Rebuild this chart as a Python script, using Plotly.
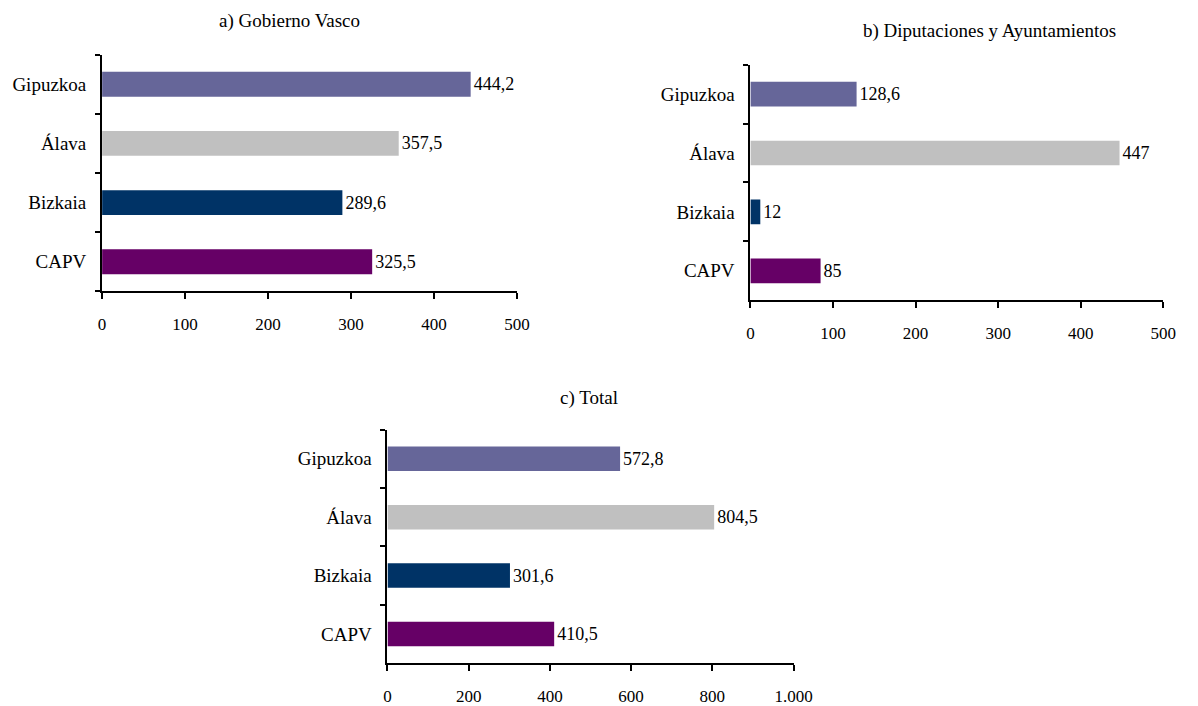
import plotly.graph_objects as go

W, H = 1198, 706

categories = ["Gipuzkoa", "Álava", "Bizkaia", "CAPV"]
colors = ["#666699", "#C0C0C0", "#003366", "#660066"]

gobierno_vasco = [444.2, 357.5, 289.6, 325.5]
diputaciones = [128.6, 447, 12, 85]
total = [572.8, 804.5, 301.6, 410.5]

titles = ["a) Gobierno Vasco", "b) Diputaciones y Ayuntamientos", "c) Total"]
x_ticks_ab = [0, 100, 200, 300, 400, 500]
x_ticks_c = [0, 200, 400, 600, 800, 1000]


def fmt(v):
    return f"{v:g}".replace(".", ",")


FONT = "Liberation Serif, Times New Roman, serif"

# panel geometry in window pixels: (x0, x1, ytop, ybottom)
panels = [
    dict(vals=gobierno_vasco, px=(100, 523, 55, 293), rng=500, ticks=x_ticks_ab, title=(291, 21)),
    dict(vals=diputaciones, px=(761, 1182, 65, 302), rng=500, ticks=x_ticks_ab, title=(1005, 31)),
    dict(vals=total, px=(391, 805, 432, 667), rng=1000, ticks=x_ticks_c, title=(596, 400)),
]


def fx(px):
    return px / W


def fy(py):
    return 1 - py / H


fig = go.Figure()
layout = dict(
    width=W, height=H,
    margin=dict(l=0, r=0, t=0, b=0),
    paper_bgcolor="white", plot_bgcolor="white",
    showlegend=False,
    separators=",.",
    font=dict(family=FONT, size=17, color="black"),
    annotations=[],
)

for i, p in enumerate(panels):
    n = "" if i == 0 else str(i + 1)
    x0, x1, yt, yb = p["px"]
    fig.add_trace(go.Bar(
        y=categories, x=p["vals"], orientation="h",
        marker=dict(color=colors, line=dict(width=0)),
        width=0.42,
        text=[fmt(v) for v in p["vals"]],
        textposition="outside",
        textfont=dict(family=FONT, size=18, color="black"),
        constraintext="none",
        cliponaxis=False,
        xaxis="x" + n, yaxis="y" + n,
        hoverinfo="skip",
    ))
    layout["xaxis" + n] = dict(
        domain=[fx(x0), fx(x1)], range=[0, p["rng"]], anchor="y" + n,
        tickvals=p["ticks"], tickformat=",d",
        showline=True, linecolor="black", linewidth=2,
        ticks="outside", ticklen=6, tickwidth=2, tickcolor="black",
        showgrid=False, zeroline=False, fixedrange=True,
        ticklabelstandoff=10,
        tickfont=dict(family=FONT, size=17),
    )
    layout["yaxis" + n] = dict(
        domain=[fy(yb), fy(yt)], anchor="x" + n,
        type="category", categoryorder="array", categoryarray=categories[::-1],
        range=[-0.5, 3.5],
        showline=True, linecolor="black", linewidth=2,
        ticks="outside", ticklen=5, tickwidth=2, tickcolor="black",
        tickson="boundaries",
        showgrid=False, zeroline=False, fixedrange=True,
        ticklabelstandoff=10,
        tickfont=dict(family=FONT, size=19),
    )
    tx, ty = p["title"]
    layout["annotations"].append(dict(
        text=titles[i], x=fx(tx), y=fy(ty), xref="paper", yref="paper",
        xanchor="center", yanchor="middle", showarrow=False,
        font=dict(family=FONT, size=19, color="black"),
    ))

fig.update_layout(**layout)
fig.write_html(
    "out.html",
    config={"displayModeBar": False, "staticPlot": True},
    post_script="document.body.style.margin='0';document.body.style.overflow='hidden';",
)
